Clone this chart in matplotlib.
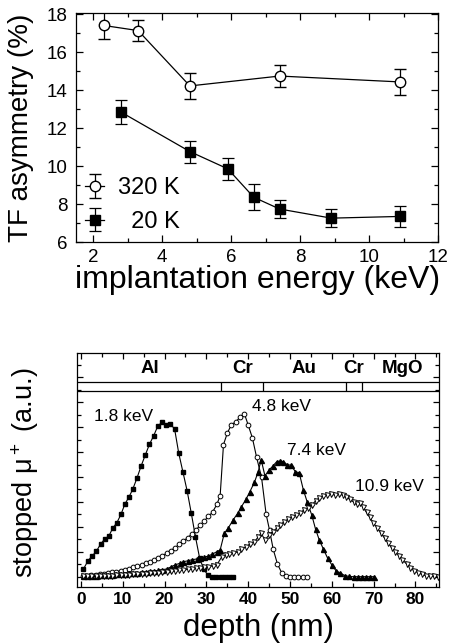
import matplotlib
matplotlib.use("Agg")
import matplotlib.pyplot as plt
from matplotlib.ticker import MultipleLocator

plt.rcParams['font.family'] = ['Liberation Sans', 'DejaVu Sans']
plt.rcParams['mathtext.fontset'] = 'custom'
plt.rcParams['mathtext.rm'] = 'Liberation Sans'
plt.rcParams['mathtext.default'] = 'regular'

# ---------------- top panel data ----------------
E320 = [2.3, 3.3, 4.8, 7.4, 10.9]
A320 = [17.4, 17.13, 14.22, 14.74, 14.43]
err320 = [0.70, 0.57, 0.68, 0.58, 0.70]

E20 = [2.8, 4.8, 5.9, 6.65, 7.4, 8.9, 10.9]
A20 = [12.85, 10.77, 9.86, 8.37, 7.75, 7.27, 7.36]
err20 = [0.63, 0.58, 0.59, 0.67, 0.47, 0.49, 0.56]

# ---------------- bottom panel data ----------------
d18 = [0.6, 1.7, 2.7, 3.7, 4.7, 5.7, 6.7, 7.6, 8.6, 9.6, 10.5, 11.5, 12.4, 13.4, 14.4,
       15.4, 16.4, 17.4, 18.4, 19.4, 20.4, 21.4, 22.4, 23.4, 24.4, 25.4, 26.4, 27.4,
       28.4, 29.4, 30.4, 31.4, 32.4, 33.4, 34.4, 35.4, 36.4]
s18 = [0.31, 0.65, 0.84, 1.03, 1.31, 1.52, 1.64, 1.95, 2.17, 2.51, 2.91, 3.2, 3.51, 3.95,
       4.44, 4.88, 5.31, 5.65, 6.04, 6.19, 6.08, 6.11, 5.93, 4.95, 4.2, 3.45, 2.55, 1.6,
       0.75, 0.3, 0.07, 0.0, 0.0, 0.0, 0.0, 0.0, 0.0]

d48 = [0.5, 1.5, 2.5, 3.5, 4.5, 5.5, 6.5, 7.5, 8.5, 9.5, 10.5, 11.5, 12.5, 13.5, 14.5,
       15.5, 16.5, 17.5, 18.5, 19.5, 20.5, 21.5, 22.5, 23.5, 24.5, 25.5, 26.5, 27.5,
       28.5, 29.5, 30.5, 31.5, 32.5, 33.3, 34.1, 35.0, 36.0, 37.0, 38.1, 39.1, 40.0,
       41.0, 42.0, 43.2, 44.3, 45.1, 46.0, 47.0, 48.0, 49.0, 50.0, 51.0, 52.0, 53.0, 54.0]
s48 = [0.02, 0.04, 0.06, 0.08, 0.1, 0.12, 0.15, 0.18, 0.21, 0.25, 0.29, 0.33, 0.38, 0.43,
       0.48, 0.54, 0.6, 0.68, 0.76, 0.85, 0.95, 1.05, 1.17, 1.3, 1.43, 1.57, 1.71, 1.88,
       2.06, 2.24, 2.42, 2.6, 2.9, 3.25, 5.3, 5.75, 6.1, 6.2, 6.4, 6.53, 6.08, 5.57, 4.8,
       3.98, 2.5, 1.88, 1.1, 0.52, 0.17, 0.03, 0.0, 0.0, 0.0, 0.0, 0.0]

d74 = [0.5, 1.5, 2.5, 3.5, 4.5, 5.5, 6.5, 7.5, 8.5, 9.5, 10.5, 11.5, 12.5, 13.5, 14.5,
       15.5, 16.5, 17.5, 18.5, 19.5, 20.5, 21.5, 22.5, 23.7, 24.5, 25.7, 26.6, 27.7,
       28.5, 29.5, 30.5, 31.4, 32.5, 33.3, 34.3, 35.2, 36.4, 37.5, 38.4, 39.5, 40.4,
       41.5, 42.4, 43.1, 44.0, 45.0, 45.9, 46.8, 47.6, 48.4, 49.4, 50.2, 51.3, 52.2,
       53.2, 54.1, 55.2, 56.1, 57.0, 58.0, 59.0, 60.0, 61.0, 62.0, 63.2, 64.2, 65.2,
       66.2, 67.2, 68.2, 69.2, 70.2]
s74 = [0.02, 0.03, 0.04, 0.05, 0.06, 0.07, 0.08, 0.09, 0.1, 0.11, 0.13, 0.14, 0.15, 0.17,
       0.18, 0.2, 0.22, 0.24, 0.26, 0.29, 0.32, 0.4, 0.48, 0.55, 0.61, 0.65, 0.69, 0.72,
       0.75, 0.79, 0.84, 0.91, 1.01, 1.08, 1.75, 1.95, 2.28, 2.55, 2.81, 3.12, 3.41, 3.79,
       4.21, 4.7, 4.05, 4.28, 4.44, 4.61, 4.64, 4.61, 4.48, 4.48, 4.21, 4.17, 3.48, 3.01,
       2.48, 1.92, 1.48, 1.11, 0.75, 0.48, 0.25, 0.15, 0.05, 0.02, 0.01, 0.01, 0.01, 0.01,
       0.01, 0.01]

d109 = [0.5, 1.5, 2.5, 3.5, 4.5, 5.5, 6.5, 7.5, 8.5, 9.5, 10.5, 11.5, 12.5, 13.5, 14.5,
        15.5, 16.5, 17.5, 18.5, 19.5, 20.5, 21.5, 22.5, 23.5, 24.5, 25.5, 26.5, 27.5,
        28.5, 29.5, 30.5, 31.5, 32.5, 33.7, 34.6, 35.5, 36.4, 37.5, 38.4, 39.5, 40.4,
        41.5, 42.4, 43.1, 44.0, 45.0, 45.9, 46.8, 47.6, 48.6, 49.6, 50.4, 51.4, 52.4,
        53.3, 54.4, 55.2, 56.1, 57.0, 58.0, 58.9, 59.8, 60.8, 61.7, 62.6, 63.5, 64.3,
        65.2, 66.0, 66.8, 67.5, 68.3, 69.1, 69.9, 70.9, 71.7, 72.6, 73.4, 74.3, 75.1,
        76.1, 76.9, 77.9, 78.7, 79.7, 80.6, 81.5, 82.5, 83.5, 84.5, 85.5]
s109 = [0.02, 0.02, 0.03, 0.03, 0.04, 0.04, 0.05, 0.05, 0.06, 0.07, 0.08, 0.09, 0.1, 0.11,
        0.12, 0.13, 0.14, 0.16, 0.17, 0.19, 0.2, 0.22, 0.24, 0.26, 0.28, 0.3, 0.32, 0.34,
        0.36, 0.38, 0.41, 0.45, 0.48, 0.81, 0.86, 0.9, 0.95, 1.01, 1.11, 1.21, 1.32, 1.41,
        1.6, 1.75, 1.48, 1.68, 1.81, 1.95, 2.08, 2.21, 2.32, 2.41, 2.48, 2.55, 2.68, 2.77,
        2.88, 3.04, 3.17, 3.25, 3.28, 3.31, 3.28, 3.3, 3.28, 3.2, 3.1, 3.0, 2.91, 2.95,
        2.78, 2.58, 2.38, 2.17, 1.96, 1.76, 1.56, 1.37, 1.17, 1.01, 0.84, 0.68, 0.52, 0.37,
        0.25, 0.17, 0.11, 0.05, 0.04, 0.02, 0.01]

layer_names = ['Al', 'Cr', 'Au', 'Cr', 'MgO']
layer_label_x = [16.4, 38.6, 53.4, 65.2, 76.8]
layer_bounds = [33.6, 43.6, 63.3, 67.3]

energy_labels = ['1.8 keV', '4.8 keV', '7.4 keV', '10.9 keV']
energy_label_pos = [(10.1, 6.41), (48.0, 6.84), (56.4, 5.05), (73.8, 3.61)]

W, H = 453, 644
fig = plt.figure(figsize=(W / 100, H / 100), dpi=100)

# ================= top panel =================
ax1 = fig.add_axes([76 / W, 1 - 242.3 / H, (438.3 - 76) / W, (242.3 - 12.7) / H])
h1 = ax1.errorbar(E320, A320, yerr=err320, fmt='o-', color='black', mfc='white',
                  mec='black', ms=7.5, lw=0.9, elinewidth=0.9, capsize=4.5, capthick=0.9,
                  mew=1.0, label='320 K')
h2 = ax1.errorbar(E20, A20, yerr=err20, fmt='s-', color='black', mfc='black',
                  mec='black', ms=7.5, lw=0.9, elinewidth=0.9, capsize=4.5, capthick=0.9,
                  label='  20 K')
ax1.set_xlim(1.5, 12)
ax1.set_ylim(6, 18.07)
ax1.xaxis.set_major_locator(MultipleLocator(2))
ax1.xaxis.set_minor_locator(MultipleLocator(1))
ax1.yaxis.set_major_locator(MultipleLocator(2))
ax1.yaxis.set_minor_locator(MultipleLocator(1))
ax1.tick_params(which='both', direction='in', top=True, right=True, labelsize=13.5,
                width=0.9)
ax1.tick_params(which='major', length=5)
ax1.tick_params(which='minor', length=3)
ax1.tick_params(axis='y', pad=6)
ax1.tick_params(axis='x', pad=5)
for s in ax1.spines.values():
    s.set_linewidth(0.9)
ax1.set_xlabel('implantation energy (keV)', fontsize=23, va='center')
ax1.set_ylabel('TF asymmetry (%)', fontsize=20, va='center')
ax1.xaxis.set_label_coords(0.502, -0.164)
ax1.yaxis.set_label_coords(-0.152, 0.50)
leg = ax1.legend(handles=[h1, h2], loc='lower left', frameon=False, fontsize=17,
                 handlelength=0.8, handletextpad=0.57, labelspacing=0.5,
                 borderaxespad=0.0, bbox_to_anchor=(0.0, 0.0))

# ================= bottom panel =================
ax2 = fig.add_axes([76.7 / W, 1 - 586.7 / H, (439.3 - 76.7) / W, (586.7 - 353.3) / H])
ax2.plot(d18, s18, 's-', color='black', ms=3.2, lw=0.8, mfc='black')
ax2.plot(d48, s48, 'o-', color='black', ms=3.4, lw=0.8, mfc='white', mew=0.7)
ax2.plot(d74, s74, '^-', color='black', ms=3.6, lw=0.8, mfc='black')
ax2.plot(d109, s109, 'v-', color='black', ms=3.6, lw=0.8, mfc='white', mew=0.7)

ax2.set_xlim(-1.0, 85.7)
ax2.set_ylim(-0.39, 8.95)
band_lo, band_mid = 7.44, 7.81
ax2.axhline(band_lo, color='black', lw=0.9)
ax2.axhline(band_mid, color='black', lw=0.9)
ax2.vlines(layer_bounds, band_lo, band_mid, color='black', lw=0.9)
for name, x in zip(layer_names, layer_label_x):
    ax2.text(x, 8.35, name, ha='center', va='center', fontsize=13.5, fontweight='bold')
for lab, (x, y) in zip(energy_labels, energy_label_pos):
    ax2.text(x, y, lab, ha='center', va='center', fontsize=12.5)

ax2.xaxis.set_major_locator(MultipleLocator(10))
ax2.xaxis.set_minor_locator(MultipleLocator(5))
ax2.yaxis.set_major_locator(MultipleLocator(1))
ax2.yaxis.set_minor_locator(MultipleLocator(0.5))
ax2.tick_params(which='both', direction='in', top=True, right=True, width=0.9)
ax2.tick_params(which='major', length=4)
ax2.tick_params(which='minor', length=3)
ax2.tick_params(axis='y', labelleft=False)
ax2.tick_params(axis='x', labelsize=12.5, pad=4)
for t in ax2.get_xticklabels():
    t.set_fontweight('bold')
for s in ax2.spines.values():
    s.set_linewidth(0.9)
ax2.set_xlabel('depth (nm)', fontsize=22.5, va='center')
ax2.set_ylabel('stopped μ$^+$ (a.u.)', fontsize=19.5, va='center')
ax2.xaxis.set_label_coords(0.5, -0.177)
ax2.yaxis.set_label_coords(-0.1426, 0.49)

fig.savefig('out.png', dpi=100)
